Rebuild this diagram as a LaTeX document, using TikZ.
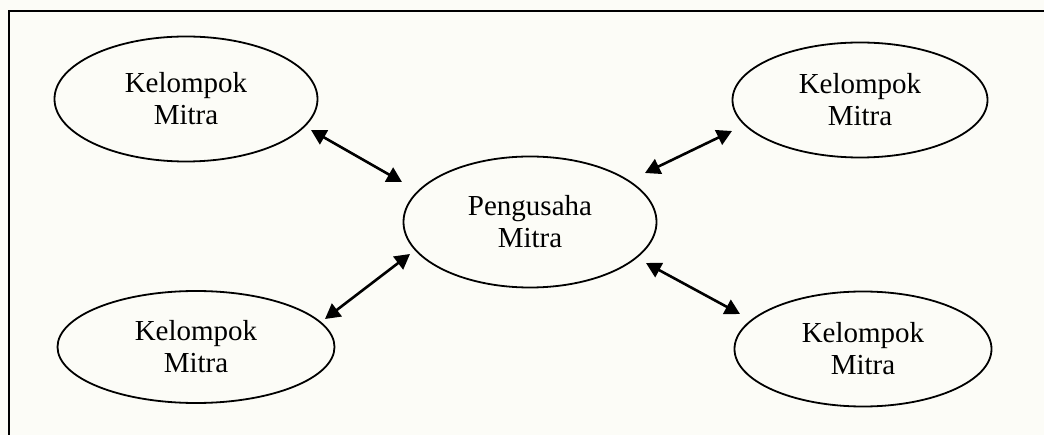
\documentclass[tikz,border=0pt]{standalone}
\usepackage{fontspec}
\setmainfont{Liberation Serif}
\usetikzlibrary{shapes.geometric,arrows.meta}
\definecolor{paper}{RGB}{252,252,247}
\tikzset{
  oval/.style={draw=black, line width=1.8pt, ellipse, inner sep=0pt,
    align=center, font=\fontsize{29}{32}\selectfont},
  link/.style={line width=2.6pt, {Triangle[length=15pt,width=16pt]}-{Triangle[length=15pt,width=16pt]}}
}
\begin{document}
\begin{tikzpicture}[x=1pt,y=-1pt]
  \useasboundingbox (0,0) rectangle (1044,435);
  \fill[paper] (0,0) rectangle (1044,435);
  % outer frame, open towards the right and bottom edges
  \draw[line width=1.6pt] (9,450) -- (9,11) -- (1060,11);

  \node[oval, minimum width=263pt, minimum height=125pt] (tl) at (186,99) {Kelompok\\Mitra};
  \node[oval, minimum width=255pt, minimum height=115pt] (tr) at (860,100) {Kelompok\\Mitra};
  \node[oval, minimum width=253pt, minimum height=131pt] (pm) at (530,222) {Pengusaha\\Mitra};
  \node[oval, minimum width=277pt, minimum height=112pt] (bl) at (196,347) {Kelompok\\Mitra};
  \node[oval, minimum width=257pt, minimum height=115pt] (br) at (863,349) {Kelompok\\Mitra};

  \coordinate (tlA) at (311,130);  \coordinate (pmA) at (402,182);
  \coordinate (trA) at (732,131);  \coordinate (pmB) at (645,173);
  \coordinate (blA) at (325,319);  \coordinate (pmC) at (410,254);
  \coordinate (brA) at (740,314);  \coordinate (pmD) at (646,263);

  \draw[link] (tlA) -- (pmA);
  \draw[link] (pmB) -- (trA);
  \draw[link] (pmC) -- (blA);
  \draw[link] (pmD) -- (brA);
\end{tikzpicture}
\end{document}
